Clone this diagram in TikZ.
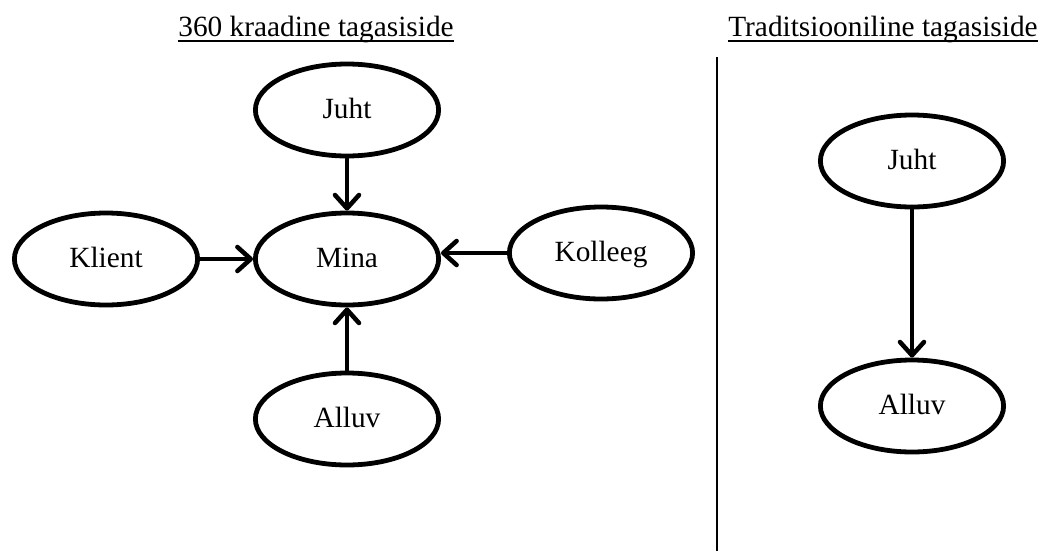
\documentclass[tikz,border=0pt]{standalone}
\usepackage{fontspec}
\setmainfont{Liberation Serif}
\usetikzlibrary{shapes.geometric,arrows.meta}
\begin{document}
\begin{tikzpicture}[x=0.75pt,y=-0.75pt,
  bubble/.style={ellipse, draw, line width=3.6pt, minimum width=137.4pt,
    minimum height=69pt, inner sep=0pt,
    font=\fontsize{22}{26}\selectfont, text height=16pt, text depth=3pt},
  feed/.style={line width=3.4pt, -{Straight Barb[round,length=10pt,width=18pt]}},
  heading/.style={inner sep=0pt, anchor=base, font=\fontsize{22}{26}\selectfont},
  rulebelow/.style={line width=1.3pt}]
\useasboundingbox (0,0) rectangle (1043,554);

% headings
\node[heading] (h360) at (316,36) {360 kraadine tagasiside};
\node[heading] (htrad) at (883,36) {Traditsiooniline tagasiside};
\draw[rulebelow] ([yshift=-4pt]h360.base west) -- ([yshift=-4pt]h360.base east);
\draw[rulebelow] ([yshift=-4pt]htrad.base west) -- ([yshift=-4pt]htrad.base east);

% divider
\coordinate (dtop) at (717,57);
\coordinate (dbot) at (717,551);
\draw[line width=1.5pt] (dtop) -- (dbot);

% 360 degree feedback
\node[bubble] (juht) at (347,110) {Juht};
\node[bubble] (mina) at (347,259) {Mina};
\node[bubble] (klient) at (106,259) {Klient};
\node[bubble] (kolleeg) at (601,253) {Kolleeg};
\node[bubble] (alluv) at (347,419) {Alluv};

\draw[feed] (juht) -- (mina);
\draw[feed] (klient) -- (mina);
\draw[feed] (kolleeg.west) -- (mina.east |- kolleeg.west);
\draw[feed] (alluv) -- (mina);

% traditional feedback
\node[bubble] (tjuht) at (912,161) {Juht};
\node[bubble] (talluv) at (912,406) {Alluv};
\draw[feed] (tjuht) -- (talluv);
\end{tikzpicture}
\end{document}
